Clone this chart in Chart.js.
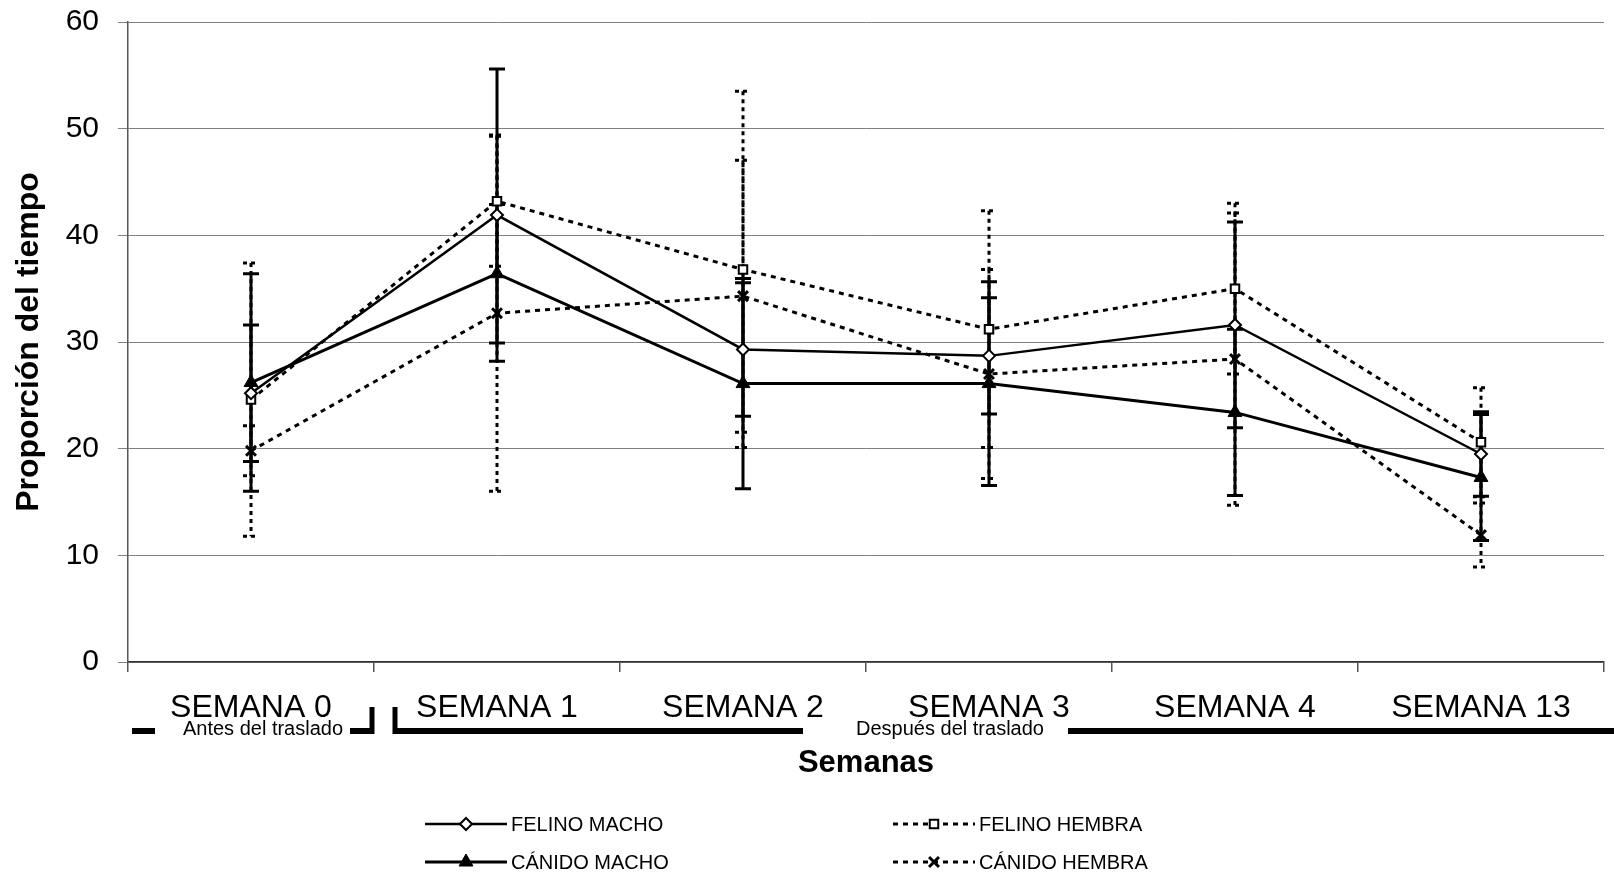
<!DOCTYPE html>
<html>
<head>
<meta charset="utf-8">
<script src="https://cdn.jsdelivr.net/npm/chart.js@4"></script>
<style>
  html, body { margin: 0; padding: 0; background: #fff; }
  #wrap { width: 1614px; height: 879px; }
</style>
</head>
<body>
<div id="wrap"><canvas id="c" width="1614" height="879"></canvas></div>
<script>
// ---- data ----
const categories = ['SEMANA 0', 'SEMANA 1', 'SEMANA 2', 'SEMANA 3', 'SEMANA 4', 'SEMANA 13'];
const seriesNames = ['FELINO MACHO', 'FELINO HEMBRA', 'CÁNIDO MACHO', 'CÁNIDO HEMBRA'];
const felinoMacho = [25.2, 41.9, 29.3, 28.7, 31.6, 19.5];
const felinoHembra = [24.6, 43.2, 36.8, 31.2, 35.0, 20.6];
const canidoMacho = [26.2, 36.4, 26.1, 26.1, 23.4, 17.3];
const canidoHembra = [19.8, 32.7, 34.3, 27.0, 28.4, 11.9];
const errFelinoMacho = [6.4, 13.7, 6.25, 5.45, 9.65, 3.95];
const errFelinoHembra = [12.8, 6.1, 16.7, 11.1, 8.0, 5.1];
const errCanidoMacho = [10.2, 6.5, 9.85, 9.55, 7.8, 5.9];
const errCanidoHembra = [2.35, 16.7, 12.75, 9.8, 13.7, 3.0];
const yTicks = [0, 10, 20, 30, 40, 50, 60];
const periodLabels = ['Antes del traslado', 'Después del traslado'];
const yTitle = 'Proporción del tiempo';
const xTitle = 'Semanas';

const errors = [errFelinoMacho, errFelinoHembra, errCanidoMacho, errCanidoHembra];
const dashed = [false, true, false, true];
const FONT = "'Liberation Sans', Arial, sans-serif";

const errorBars = {
  id: 'errorBars',
  beforeDatasetsDraw(chart) {
    const ctx = chart.ctx, ys = chart.scales.y;
    chart.data.datasets.forEach((ds, i) => {
      const meta = chart.getDatasetMeta(i);
      ctx.save();
      ctx.strokeStyle = '#000';
      ctx.lineWidth = 3;
      ctx.setLineDash(dashed[i] ? [4, 4] : []);
      meta.data.forEach((pt, j) => {
        const v = ds.data[j], e = errors[i][j];
        const yt = ys.getPixelForValue(v + e), yb = ys.getPixelForValue(v - e);
        ctx.beginPath();
        ctx.moveTo(pt.x, yt); ctx.lineTo(pt.x, yb);
        ctx.moveTo(pt.x - 8, yt); ctx.lineTo(pt.x + 8, yt);
        ctx.moveTo(pt.x - 8, yb); ctx.lineTo(pt.x + 8, yb);
        ctx.stroke();
      });
      ctx.restore();
    });
  }
};

const extras = {
  id: 'extras',
  afterDraw(chart) {
    const ctx = chart.ctx, xs = chart.scales.x;
    const x0 = xs.getPixelForValue(0), x1 = xs.getPixelForValue(1);
    const b01 = (x0 + x1) / 2;
    const yb = 731;
    ctx.save();
    ctx.fillStyle = '#000';
    ctx.strokeStyle = '#000';
    ctx.lineWidth = 6;
    ctx.lineCap = 'butt';
    ctx.beginPath();
    ctx.moveTo(xs.left + 4, yb); ctx.lineTo(xs.left + 27, yb);
    ctx.moveTo(b01 - 24, yb); ctx.lineTo(b01 - 1, yb);
    ctx.stroke();
    ctx.lineWidth = 5;
    ctx.beginPath();
    ctx.moveTo(b01 - 2, 707); ctx.lineTo(b01 - 2, 734);
    ctx.moveTo(b01 + 21, 707); ctx.lineTo(b01 + 21, 734);
    ctx.stroke();
    ctx.lineWidth = 6;
    ctx.beginPath();
    ctx.moveTo(b01 + 19, yb); ctx.lineTo(b01 + 429, yb);
    ctx.moveTo(b01 + 694, yb); ctx.lineTo(chart.width, yb);
    ctx.stroke();
    ctx.font = '20px ' + FONT;
    ctx.textAlign = 'center';
    ctx.textBaseline = 'middle';
    ctx.fillText(periodLabels[0], x0 + 12, 729);
    ctx.fillText(periodLabels[1], b01 + 576, 729);

    // legend
    const items = [
      {x: 425, y: 824}, {x: 893, y: 824}, {x: 425, y: 862}, {x: 893, y: 862}
    ];
    chart.data.datasets.forEach((ds, i) => {
      const it = items[i];
      ctx.save();
      ctx.lineWidth = ds.borderWidth;
      ctx.setLineDash(ds.borderDash || []);
      ctx.beginPath();
      ctx.moveTo(it.x, it.y); ctx.lineTo(it.x + 82, it.y);
      ctx.stroke();
      ctx.restore();
      ctx.save();
      ctx.fillStyle = ds.pointBackgroundColor;
      ctx.strokeStyle = '#000';
      ctx.lineWidth = ds.pointBorderWidth;
      Chart.helpers.drawPoint(ctx, {pointStyle: ds.pointStyle, radius: ds.pointRadius, borderWidth: ds.pointBorderWidth, rotation: 0}, it.x + 41, it.y);
      ctx.restore();
      ctx.fillStyle = '#000';
      ctx.font = '20px ' + FONT;
      ctx.textAlign = 'left';
      ctx.textBaseline = 'middle';
      ctx.fillText(ds.label, it.x + 86, it.y + 1);
    });
    ctx.restore();
  }
};

const mk = (label, data, opts) => Object.assign({
  label, data,
  borderColor: '#000',
  pointBorderColor: '#000',
  fill: false,
  tension: 0,
}, opts);

new Chart(document.getElementById('c'), {
  type: 'line',
  data: {
    labels: categories,
    datasets: [
      mk(seriesNames[0], felinoMacho, {borderWidth: 2.5, pointStyle: 'rectRot', pointRadius: 6, pointBackgroundColor: '#fff', pointBorderWidth: 2}),
      mk(seriesNames[1], felinoHembra, {borderWidth: 3, borderDash: [5, 5], pointStyle: 'rect', pointRadius: 6, pointBackgroundColor: '#fff', pointBorderWidth: 2}),
      mk(seriesNames[2], canidoMacho, {borderWidth: 3, pointStyle: 'triangle', pointRadius: 8, pointBackgroundColor: '#000', pointBorderWidth: 1}),
      mk(seriesNames[3], canidoHembra, {borderWidth: 3, borderDash: [5, 5], pointStyle: 'crossRot', pointRadius: 7, pointBackgroundColor: '#000', pointBorderWidth: 3}),
    ]
  },
  options: {
    responsive: false,
    animation: false,
    layout: { padding: { left: 0, right: 10, top: 22, bottom: 0 } },
    plugins: { legend: { display: false }, tooltip: { enabled: false } },
    scales: {
      x: {
        type: 'category',
        offset: true,
        grid: { offset: true, drawOnChartArea: false, drawTicks: true, tickLength: 10, color: '#555', lineWidth: 1.5 },
        border: { color: '#333', width: 1.5 },
        ticks: { color: '#000', font: { family: FONT, size: 32 }, padding: 17, maxRotation: 0, autoSkip: false },
        title: { display: true, text: xTitle, color: '#000', font: { family: FONT, size: 31, weight: 'bold' }, padding: { top: 0, bottom: 97 } },
        afterFit: (s) => { s.height = 217; s.paddingLeft = 0; s.paddingRight = 0; }
      },
      y: {
        min: yTicks[0], max: yTicks[yTicks.length - 1],
        afterBuildTicks: (s) => { s.ticks = yTicks.map(v => ({ value: v })); },
        grid: { color: '#808080', lineWidth: 1, tickLength: 10 },
        border: { color: '#555', width: 1.5 },
        ticks: { color: '#000', font: { family: FONT, size: 30 }, padding: 19 },
        title: { display: true, text: yTitle, color: '#000', font: { family: FONT, size: 32, weight: 'bold' }, padding: { top: 10, bottom: 0 } },
        afterFit: (s) => { s.width = 128; s.paddingTop = 0; s.paddingBottom = 0; }
      }
    }
  },
  plugins: [errorBars, extras]
});
</script>
</body>
</html>
